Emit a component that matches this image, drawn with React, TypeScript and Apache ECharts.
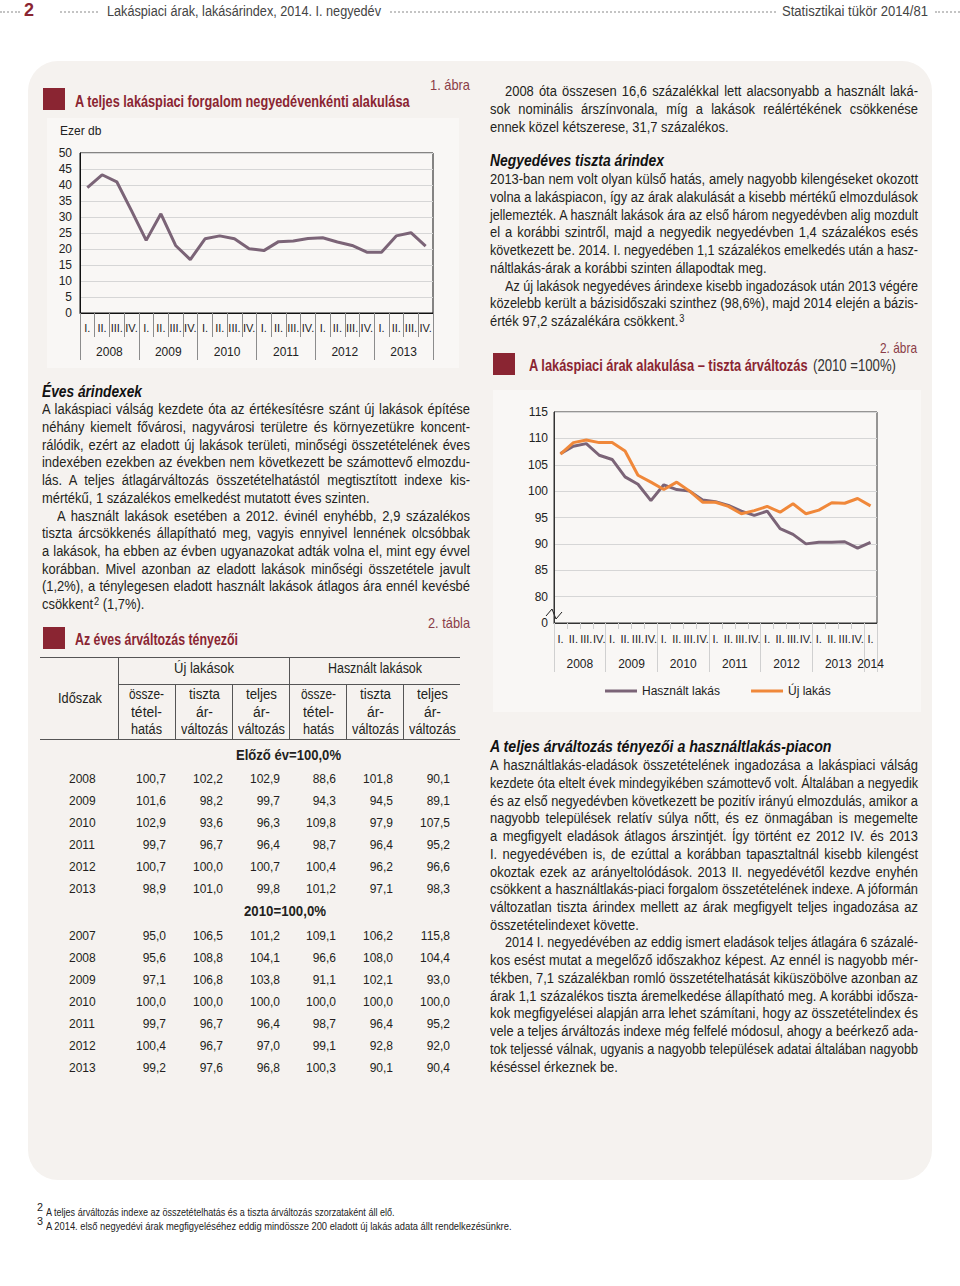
import React, { useEffect, useRef } from 'react';
import * as echarts from 'echarts';

// ---------- DATA ----------
const quarterNames = ['I.', 'II.', 'III.', 'IV.'];
const years1 = ['2008', '2009', '2010', '2011', '2012', '2013'];
const turnover = [39.2, 43.2, 41.0, 32.0, 22.7, 31.0, 21.1, 16.7, 23.2, 24.1, 23.2, 20.1, 19.5, 22.3, 22.5, 23.3, 23.5, 22.2, 21.1, 19.0, 19.0, 24.1, 25.1, 20.9];
const yTicks1 = { min: 0, max: 50, step: 5 };

const years2 = ['2008', '2009', '2010', '2011', '2012', '2013', '2014'];
const quartersPerYear2 = [4, 4, 4, 4, 4, 4, 1];
const seriesNames2 = ['Használt lakás', 'Új lakás'];
const usedPrice = [107.1, 108.5, 109.0, 106.8, 106.0, 102.7, 101.3, 98.2, 101.2, 100.3, 100.0, 98.3, 98.0, 97.3, 96.2, 95.4, 96.2, 92.9, 91.8, 90.0, 90.3, 90.3, 90.4, 89.2, 90.3];
const newPrice = [107.0, 109.2, 109.7, 109.2, 109.2, 107.6, 103.0, 101.7, 100.3, 101.7, 100.0, 97.9, 97.9, 97.1, 95.7, 96.3, 97.1, 96.0, 97.6, 95.7, 96.4, 97.8, 97.7, 98.6, 97.2];

const tableColGroups = ['Új lakások', 'Használt lakások'];
const tableSubHeads = [['össze-', 'tétel-', 'hatás'], ['tiszta', 'ár-', 'változás'], ['teljes', 'ár-', 'változás']];
const sectionA = 'Előző év=100,0%';
const yearsA = ['2008', '2009', '2010', '2011', '2012', '2013'];
const valuesA = [
  ['100,7', '102,2', '102,9', '88,6', '101,8', '90,1'],
  ['101,6', '98,2', '99,7', '94,3', '94,5', '89,1'],
  ['102,9', '93,6', '96,3', '109,8', '97,9', '107,5'],
  ['99,7', '96,7', '96,4', '98,7', '96,4', '95,2'],
  ['100,7', '100,0', '100,7', '100,4', '96,2', '96,6'],
  ['98,9', '101,0', '99,8', '101,2', '97,1', '98,3'],
];
const sectionB = '2010=100,0%';
const yearsB = ['2007', '2008', '2009', '2010', '2011', '2012', '2013'];
const valuesB = [
  ['95,0', '106,5', '101,2', '109,1', '106,2', '115,8'],
  ['95,6', '108,8', '104,1', '96,6', '108,0', '104,4'],
  ['97,1', '106,8', '103,8', '91,1', '102,1', '93,0'],
  ['100,0', '100,0', '100,0', '100,0', '100,0', '100,0'],
  ['99,7', '96,7', '96,4', '98,7', '96,4', '95,2'],
  ['100,4', '96,7', '97,0', '99,1', '92,8', '92,0'],
  ['99,2', '97,6', '96,8', '100,3', '90,1', '90,4'],
];

const leftP1 = [
  'A lakáspiaci válság kezdete óta az értékesítésre szánt új lakások építése',
  'néhány kiemelt fővárosi, nagyvárosi területre és környezetükre koncent-',
  'rálódik, ezért az eladott új lakások területi, minőségi összetételének éves',
  'indexében ezekben az években nem következett be számottevő elmozdu-',
  'lás. A teljes átlagárváltozás összetételhatástól megtisztított indexe kis-',
  'mértékű, 1 százalékos emelkedést mutatott éves szinten.',
];
const leftP2 = [
  'A használt lakások esetében a 2012. évinél enyhébb, 2,9 százalékos',
  'tiszta árcsökkenés állapítható meg, vagyis ennyivel lennének olcsóbbak',
  'a lakások, ha ebben az évben ugyanazokat adták volna el, mint egy évvel',
  'korábban. Mivel azonban az eladott lakások minőségi összetétele javult',
  '(1,2%), a ténylegesen eladott használt lakások átlagos ára ennél kevésbé',
  'csökkent{2} (1,7%).',
];
const rightP0 = [
  '2008 óta összesen 16,6 százalékkal lett alacsonyabb a használt laká-',
  'sok nominális árszínvonala, míg a lakások reálértékének csökkenése',
  'ennek közel kétszerese, 31,7 százalékos.',
];
const rightP1 = [
  '2013-ban nem volt olyan külső hatás, amely nagyobb kilengéseket okozott',
  'volna a lakáspiacon, így az árak alakulását a kisebb mértékű elmozdulások',
  'jellemezték. A használt lakások ára az első három negyedévben alig mozdult',
  'el a korábbi szintről, majd a negyedik negyedévben 1,4 százalékos esés',
  'következett be. 2014. I. negyedében 1,1 százalékos emelkedés után a hasz-',
  'náltlakás-árak a korábbi szinten állapodtak meg.',
];
const rightP2 = [
  'Az új lakások negyedéves árindexe kisebb ingadozások után 2013 végére',
  'közelebb került a bázisidőszaki szinthez (98,6%), majd 2014 elején a bázis-',
  'érték 97,2 százalékára csökkent.{3}',
];
const rightP3 = [
  'A használtlakás-eladások összetételének ingadozása a lakáspiaci válság',
  'kezdete óta eltelt évek mindegyikében számottevő volt. Általában a negyedik',
  'és az első negyedévben következett be pozitív irányú elmozdulás, amikor a',
  'nagyobb települések relatív súlya nőtt, és ez önmagában is megemelte',
  'a megfigyelt eladások átlagos árszintjét. Így történt ez 2012 IV. és 2013',
  'I. negyedévében is, de ezúttal a korábban tapasztaltnál kisebb kilengést',
  'okoztak ezek az arányeltolódások. 2013 II. negyedévétől kezdve enyhén',
  'csökkent a használtlakás-piaci forgalom összetételének indexe. A jóformán',
  'változatlan tiszta árindex mellett az árak megfigyelt teljes ingadozása az',
  'összetételindexet követte.',
];
const rightP4 = [
  '2014 I. negyedévében az eddig ismert eladások teljes átlagára 6 százalé-',
  'kos esést mutat a megelőző időszakhoz képest. Az ennél is nagyobb mér-',
  'tékben, 7,1 százalékban romló összetételhatását kiküszöbölve azonban az',
  'árak 1,1 százalékos tiszta áremelkedése állapítható meg. A korábbi idősza-',
  'kok megfigyelései alapján arra lehet számítani, hogy az összetételindex és',
  'vele a teljes árváltozás indexe még felfelé módosul, ahogy a beérkező ada-',
  'tok teljessé válnak, ugyanis a nagyobb települések adatai általában nagyobb',
  'késéssel érkeznek be.',
];
const footnotes = [
  ['2', 'A teljes árváltozás indexe az összetételhatás és a tiszta árváltozás szorzataként áll elő.'],
  ['3', 'A 2014. első negyedévi árak megfigyeléséhez eddig mindössze 200 eladott új lakás adata állt rendelkezésünkre.'],
];

// ---------- STYLE ----------
const FONT = '"Liberation Sans", Arial, Helvetica, sans-serif';
const RED = '#8a2532';
const TEXT = '#231f20';
const LH = 17.73;

let _ctx: CanvasRenderingContext2D | null = null;
function measure(text: string, size: number, bold = false, italic = false) {
  if (!_ctx) _ctx = document.createElement('canvas').getContext('2d');
  const c = _ctx!;
  c.font = `${italic ? 'italic ' : ''}${bold ? 'bold ' : ''}${size}px ${FONT}`;
  return c.measureText(text.replace(/\{\d\}/g, '')).width;
}

// calibrate body text compression from un-justified last lines of the reference
const calib: [string, number][] = [
  ['mértékű, 1 százalékos emelkedést mutatott éves szinten.', 335],
  ['ennek közel kétszerese, 31,7 százalékos.', 239],
  ['náltlakás-árak a korábbi szinten állapodtak meg.', 275],
  ['összetételindexet követte.', 146],
];
let _bodyScale = 0;
function bodyScale() {
  if (!_bodyScale) {
    const r = calib.map(([t, w]) => w / measure(t, 14));
    _bodyScale = r.reduce((a, b) => a + b, 0) / r.length;
  }
  return _bodyScale;
}

function Chart({ option, style }: { option: any; style: React.CSSProperties }) {
  const ref = useRef<HTMLDivElement>(null);
  useEffect(() => {
    const c = echarts.init(ref.current!, undefined, { renderer: 'svg' });
    c.setOption(option);
    return () => c.dispose();
  }, []);
  return <div ref={ref} style={style} />;
}

function RichText({ s }: { s: string }) {
  const parts = s.split(/\{(\d)\}/);
  return (
    <>
      {parts.map((p, i) =>
        i % 2 === 1 ? (
          <span key={i} style={{ fontSize: 10, position: 'relative', top: -4, marginLeft: 1 }}>{p}</span>
        ) : (
          <span key={i}>{p}</span>
        )
      )}
    </>
  );
}

function Para({ lines, x, y, w, indent = 0, lh = LH }: { lines: string[]; x: number; y: number; w: number; indent?: number; lh?: number }) {
  const s0 = bodyScale();
  return (
    <>
      {lines.map((t, i) => {
        const last = i === lines.length - 1;
        const ind = i === 0 ? indent : 0;
        const avail = w - ind;
        const nat = measure(t, 14);
        let s = s0;
        if (nat * s > avail) s = avail / nat;
        return (
          <div
            key={i}
            style={{
              position: 'absolute',
              left: x + ind,
              top: y + i * lh - lh / 2,
              width: avail / s,
              height: lh,
              lineHeight: lh + 'px',
              fontFamily: FONT,
              fontSize: 14,
              color: TEXT,
              whiteSpace: 'nowrap',
              textAlign: last ? 'left' : 'justify',
              textAlignLast: last ? 'left' : 'justify',
              transform: `scaleX(${s})`,
              transformOrigin: '0 0',
            } as React.CSSProperties}
          >
            <RichText s={t} />
          </div>
        );
      })}
    </>
  );
}

// text squeezed to a target width (the reference uses a condensed face)
function Fit({
  text, x, cy, w, size = 14, bold = false, italic = false, color = TEXT, align = 'left', lh = 20,
}: {
  text: string; x: number; cy: number; w: number; size?: number; bold?: boolean; italic?: boolean; color?: string; align?: 'left' | 'center' | 'right'; lh?: number;
}) {
  const nat = measure(text, size, bold, italic);
  const s = w / nat;
  const left = align === 'left' ? x : align === 'center' ? x - w / 2 : x - w;
  return (
    <div
      style={{
        position: 'absolute', left, top: cy - lh / 2, height: lh, lineHeight: lh + 'px', whiteSpace: 'nowrap',
        fontFamily: FONT, fontSize: size, fontWeight: bold ? 'bold' : 'normal', fontStyle: italic ? 'italic' : 'normal', color,
        transform: `scaleX(${s})`, transformOrigin: '0 0',
      }}
    >
      {text}
    </div>
  );
}

function Dots({ x, w }: { x: number; w: number }) {
  return <div style={{ position: 'absolute', left: x, top: 11, width: w, height: 0, borderTop: '2px dotted #c4c4c4' }} />;
}

const axisFont = { fontFamily: FONT, color: '#222' };

const option1 = {
  animation: false,
  grid: { left: 33, right: 26, top: 35, bottom: 55, show: true, borderColor: '#111', borderWidth: 1 },
  graphic: [{ type: 'text', left: 13, top: 7, style: { text: 'Ezer db', fontSize: 12, fontFamily: FONT, fill: '#222' } }],
  xAxis: [
    {
      type: 'category',
      data: turnover.map((_, i) => years1[Math.floor(i / 4)] + '-' + quarterNames[i % 4]),
      axisLine: { show: true, lineStyle: { color: '#111' } },
      axisTick: { show: true, interval: 0, length: 24, lineStyle: { color: '#8c8c8c' } },
      axisLabel: { interval: 0, margin: 9, fontSize: 11, ...axisFont, formatter: (v: string) => v.split('-')[1] },
      splitLine: { show: false },
    },
    {
      type: 'category',
      data: years1,
      position: 'bottom',
      axisLine: { show: false },
      axisTick: { show: true, interval: 0, length: 47, lineStyle: { color: '#8c8c8c' } },
      axisLabel: { interval: 0, margin: 33, fontSize: 12, ...axisFont },
      splitLine: { show: false },
    },
  ],
  yAxis: {
    type: 'value',
    min: yTicks1.min,
    max: yTicks1.max,
    interval: yTicks1.step,
    axisLine: { show: true, lineStyle: { color: '#111' } },
    axisTick: { show: false },
    axisLabel: { margin: 8, fontSize: 12, ...axisFont },
    splitLine: { lineStyle: { color: '#d6d6d6' } },
  },
  series: [{ type: 'line', data: turnover, symbol: 'none', lineStyle: { width: 3, color: '#7b6477' } }],
};

const yearEdges2: number[] = [0];
quartersPerYear2.forEach((n) => yearEdges2.push(yearEdges2[yearEdges2.length - 1] + n));
const yearCenters2 = quartersPerYear2.map((n, i) => yearEdges2[i] + n / 2);
const q2ids: string[] = [];
quartersPerYear2.forEach((n, yi) => {
  for (let q = 0; q < n; q++) q2ids.push(years2[yi] + '-' + quarterNames[q]);
});

const option2 = {
  animation: false,
  grid: { left: 61, right: 44, top: 22, bottom: 89, show: true, borderColor: '#333', borderWidth: 1 },
  graphic: [
    { type: 'polyline', shape: { points: [[53, 226], [59, 219], [63, 229], [69, 222]] }, style: { stroke: '#222', lineWidth: 1, fill: 'none' } },
  ],
  legend: {
    left: 107,
    top: 290,
    icon: 'rect',
    itemWidth: 32,
    itemHeight: 3,
    itemGap: 31,
    textStyle: { fontSize: 12, fontFamily: FONT, color: '#222' },
    data: seriesNames2,
  },
  xAxis: [
    {
      type: 'category',
      data: q2ids,
      axisLine: { show: true, lineStyle: { color: '#333' } },
      axisTick: { show: true, interval: 0, length: 6, lineStyle: { color: '#d0d0d0' } },
      axisLabel: { interval: 0, margin: 10, fontSize: 11, ...axisFont, formatter: (v: string) => v.split('-')[1] },
      splitLine: { show: false },
    },
    {
      type: 'value',
      min: 0,
      max: yearEdges2[yearEdges2.length - 1],
      position: 'bottom',
      axisLine: { show: false },
      axisTick: { show: true, length: 49, customValues: yearEdges2, lineStyle: { color: '#d0d0d0' } },
      axisLabel: {
        margin: 35,
        fontSize: 12,
        ...axisFont,
        customValues: yearCenters2,
        formatter: (v: number) => {
          const i = yearCenters2.findIndex((c) => Math.abs(c - v) < 0.01);
          return i >= 0 ? years2[i] : '';
        },
      },
      splitLine: { show: false },
    },
  ],
  yAxis: {
    type: 'value',
    min: 75,
    max: 115,
    interval: 5,
    axisLine: { show: true, lineStyle: { color: '#333' } },
    axisTick: { show: false },
    axisLabel: { margin: 6, fontSize: 12, ...axisFont, formatter: (v: number) => (v === 75 ? '0' : String(v)) },
    splitLine: { lineStyle: { color: '#d6d6d6' } },
  },
  series: [
    { name: seriesNames2[0], type: 'line', data: usedPrice, symbol: 'none', lineStyle: { width: 3, color: '#7b6477' }, itemStyle: { color: '#7b6477' } },
    { name: seriesNames2[1], type: 'line', data: newPrice, symbol: 'none', lineStyle: { width: 3, color: '#f0883a' }, itemStyle: { color: '#f0883a' } },
  ],
};

// table geometry
const colCenters = [146, 204, 261, 318, 375, 432];
const colRights = [166, 223, 280, 336, 393, 450];
const rowStep = 22;

function HLine({ x1, x2, y, c = '#555' }: { x1: number; x2: number; y: number; c?: string }) {
  return <div style={{ position: 'absolute', left: x1, top: y, width: x2 - x1, height: 1, background: c }} />;
}
function VLine({ x, y1, y2, c = '#555' }: { x: number; y1: number; y2: number; c?: string }) {
  return <div style={{ position: 'absolute', left: x, top: y1, width: 1, height: y2 - y1, background: c }} />;
}
function RightAt({ rx, cy, children, style }: { rx: number; cy: number; children: any; style?: React.CSSProperties }) {
  return (
    <div style={{ position: 'absolute', left: rx - 100, top: cy - 10, width: 100, height: 20, lineHeight: '20px', textAlign: 'right', whiteSpace: 'nowrap', ...style }}>
      {children}
    </div>
  );
}

const subHeadWidths: Record<string, number> = { 'össze-': 35, 'tétel-': 31, 'hatás': 31, 'tiszta': 31, 'ár-': 17, 'változás': 47, 'teljes': 31 };

function Table() {
  const num: React.CSSProperties = { fontFamily: FONT, fontSize: 12, color: TEXT };
  const rowsA = yearsA.map((y, r) => ({ y, vals: valuesA[r], cy: 779 + r * rowStep }));
  const rowsB = yearsB.map((y, r) => ({ y, vals: valuesB[r], cy: 936 + r * rowStep }));
  const renderRows = (rows: { y: string; vals: string[]; cy: number }[], k: string) =>
    rows.map((r) => (
      <React.Fragment key={k + r.y}>
        <div style={{ position: 'absolute', left: 69, top: r.cy - 10, lineHeight: '20px', ...num }}>{r.y}</div>
        {r.vals.map((v, ci) => (
          <RightAt key={ci} rx={colRights[ci]} cy={r.cy} style={num}>{v}</RightAt>
        ))}
      </React.Fragment>
    ));
  return (
    <>
      <HLine x1={40} x2={460} y={657} />
      <VLine x={118} y1={657} y2={740} />
      <VLine x={289} y1={657} y2={740} />
      <HLine x1={118} x2={460} y={684} />
      {[175, 232, 346, 403].map((x) => (
        <VLine key={x} x={x} y1={684} y2={740} />
      ))}
      <HLine x1={40} x2={460} y={739} />
      <Fit text="Időszak" x={80} cy={698} w={44} align="center" />
      <Fit text={tableColGroups[0]} x={204} cy={668} w={60} align="center" />
      <Fit text={tableColGroups[1]} x={375} cy={668} w={94} align="center" />
      {colCenters.map((cx, ci) =>
        tableSubHeads[ci % 3].map((t, li) => (
          <Fit key={ci + '-' + li} text={t} x={cx} cy={694 + li * 17.5} w={subHeadWidths[t]} align="center" />
        ))
      )}
      <Fit text={sectionA} x={288} cy={755} w={105} bold align="center" />
      {renderRows(rowsA, 'a')}
      <Fit text={sectionB} x={285} cy={911} w={82} bold align="center" />
      {renderRows(rowsB, 'b')}
    </>
  );
}

function Square({ x, y }: { x: number; y: number }) {
  return <div style={{ position: 'absolute', left: x, top: y, width: 22, height: 22, background: RED }} />;
}

export default function App() {
  useEffect(() => {
    document.body.style.margin = '0';
  }, []);
  const tag = '#8a3d47';
  return (
    <div style={{ position: 'absolute', left: 0, top: 0, width: 960, height: 1286, background: '#fff', overflow: 'hidden' }}>
      {/* page header */}
      <Dots x={0} w={20} />
      <Fit text="2" x={24} cy={10} w={10} size={18} bold color={RED} />
      <Dots x={60} w={38} />
      <Fit text="Lakáspiaci árak, lakásárindex, 2014. I. negyedév" x={107} cy={11} w={274} size={14} color="#444" />
      <Dots x={390} w={386} />
      <Fit text="Statisztikai tükör 2014/81" x={782} cy={11} w={146} size={14} color="#444" />
      <Dots x={935} w={25} />

      {/* panel */}
      <div style={{ position: 'absolute', left: 28, top: 61, width: 904, height: 1119, background: '#f5f2ef', borderRadius: 30 }} />

      {/* Chart 1 */}
      <Fit text="1. ábra" x={470} cy={85} w={40} size={15} color={tag} align="right" />
      <Square x={43} y={88} />
      <Fit text="A teljes lakáspiaci forgalom negyedévenkénti alakulása" x={75} cy={102} w={335} size={16} bold color={RED} />
      <Chart option={option1} style={{ position: 'absolute', left: 47, top: 118, width: 412, height: 250, background: '#f9f7f5' }} />

      {/* left text */}
      <Fit text="Éves árindexek" x={42} cy={392} w={100} size={16} bold italic color="#111" />
      <Para lines={leftP1} x={42} y={410} w={428} />
      <Para lines={leftP2} x={42} y={410 + 6 * LH} w={428} indent={15} />

      {/* table */}
      <Fit text="2. tábla" x={470} cy={623} w={42} size={15} color={tag} align="right" />
      <Square x={43} y={627} />
      <Fit text="Az éves árváltozás tényezői" x={75} cy={640} w={163} size={16} bold color={RED} />
      <Table />

      {/* right column */}
      <Para lines={rightP0} x={490} y={91} w={428} indent={15} lh={18} />
      <Fit text="Negyedéves tiszta árindex" x={490} cy={161} w={174} size={16} bold italic color="#111" />
      <Para lines={rightP1} x={490} y={180} w={428} />
      <Para lines={rightP2} x={490} y={180 + 6 * LH} w={428} indent={15} />

      <Fit text="2. ábra" x={917} cy={348} w={37} size={15} color={tag} align="right" />
      <Square x={493} y={353} />
      <Fit text="A lakáspiaci árak alakulása – tiszta árváltozás" x={529} cy={366} w={279} size={16} bold color={RED} />
      <Fit text="(2010 =100%)" x={813} cy={366} w={83} size={16} color="#333" />
      <Chart option={option2} style={{ position: 'absolute', left: 493, top: 390, width: 428, height: 322, background: '#f9f7f5' }} />

      <Fit text="A teljes árváltozás tényezői a használtlakás-piacon" x={490} cy={747} w={342} size={16} bold italic color="#111" />
      <Para lines={rightP3} x={490} y={766} w={428} />
      <Para lines={rightP4} x={490} y={766 + 10 * LH} w={428} indent={15} />

      {/* footnotes */}
      {footnotes.map(([n, t], i) => (
        <React.Fragment key={n}>
          <Fit text={n} x={37} cy={1208 + i * 14} w={6} size={10} color="#222" lh={14} />
          <Fit text={t} x={46} cy={1212 + i * 14} w={i === 0 ? 349 : 466} size={11.5} color="#222" lh={14} />
        </React.Fragment>
      ))}
    </div>
  );
}
